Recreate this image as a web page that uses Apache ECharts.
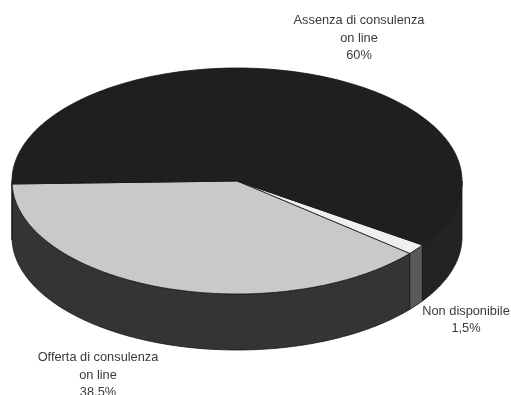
<!DOCTYPE html>
<html>
<head>
    <meta charset="utf-8">
    <title>ECharts</title>
    <script src="https://cdn.jsdelivr.net/npm/echarts@6/dist/echarts.min.js"></script>
    <style>html,body{margin:0;padding:0;background:#fff}</style>
</head>
<body>
    <div id="main" style="width:511px;height:395px;"></div>
    <script type="text/javascript">
var myChart = echarts.init(document.getElementById('main'));

// data, clockwise on screen
var names = ['Non disponibile', 'Offerta di consulenza\non line', 'Assenza di consulenza\non line'];
var values = [1.5, 38.5, 60];

// look of each slice
var topColors = ['#efefef', '#c9c9c9', '#1f1f1f'];
var wallColors = ['#5a5a5a', '#343434', '#232323'];
var labelPos = [[466, 320], [98, 375], [359, 38]];

var cx = 237, cy = 181, rx = 225, ry = 113, depth = 56;
var startDeg = 34.5;

function sliceRange(i) {
    var before = 0, total = 0;
    values.forEach(function (v, k) {
        total += v;
        if (k < i) before += v;
    });
    return [startDeg + before / total * 360, startDeg + (before + values[i]) / total * 360];
}

function rimPoint(deg, dy) {
    var a = deg * Math.PI / 180;
    return [cx + rx * Math.cos(a), cy + ry * Math.sin(a) + dy];
}

function arc(from, to, dy) {
    var pts = [];
    var n = Math.max(2, Math.ceil(Math.abs(to - from)));
    for (var k = 0; k <= n; k++) {
        pts.push(rimPoint(from + (to - from) * k / n, dy));
    }
    return pts;
}

// front part of the wall, only where the rim faces the viewer (0..180, 360..540)
function renderWall(params, api) {
    var i = api.value(0);
    var r = sliceRange(i);
    var children = [];
    [[0, 180], [360, 540]].forEach(function (w) {
        var from = Math.max(r[0], w[0]), to = Math.min(r[1], w[1]);
        if (to <= from) return;
        children.push({
            type: 'polygon',
            shape: { points: arc(from, to, 0).concat(arc(to, from, depth)) },
            style: { fill: wallColors[i], stroke: '#151515', lineWidth: 0.8 }
        });
    });
    return { type: 'group', children: children };
}

function renderTop(params, api) {
    var i = api.value(0);
    var r = sliceRange(i);
    return {
        type: 'polygon',
        shape: { points: [[cx, cy]].concat(arc(r[0], r[1], 0)) },
        style: { fill: topColors[i], stroke: '#151515', lineWidth: 0.8 }
    };
}

function renderLabel(params, api) {
    var i = api.value(0);
    return {
        type: 'text',
        x: labelPos[i][0],
        y: labelPos[i][1],
        style: {
            text: names[i] + '\n' + String(values[i]).replace('.', ',') + '%',
            fill: '#3a3a3a',
            font: '12.8px "Liberation Sans", Arial, sans-serif',
            lineHeight: 17.5,
            align: 'center',
            verticalAlign: 'middle'
        }
    };
}

var rows = values.map(function (v, i) { return [i, v]; });

var option = {
    backgroundColor: '#ffffff',
    animation: false,
    series: [
        { type: 'custom', coordinateSystem: 'none', silent: true, z: 1, renderItem: renderWall, data: rows },
        { type: 'custom', coordinateSystem: 'none', silent: true, z: 2, renderItem: renderTop, data: rows },
        { type: 'custom', coordinateSystem: 'none', silent: true, z: 3, renderItem: renderLabel, data: rows }
    ]
};
myChart.setOption(option);
    </script>
</body>
</html>
